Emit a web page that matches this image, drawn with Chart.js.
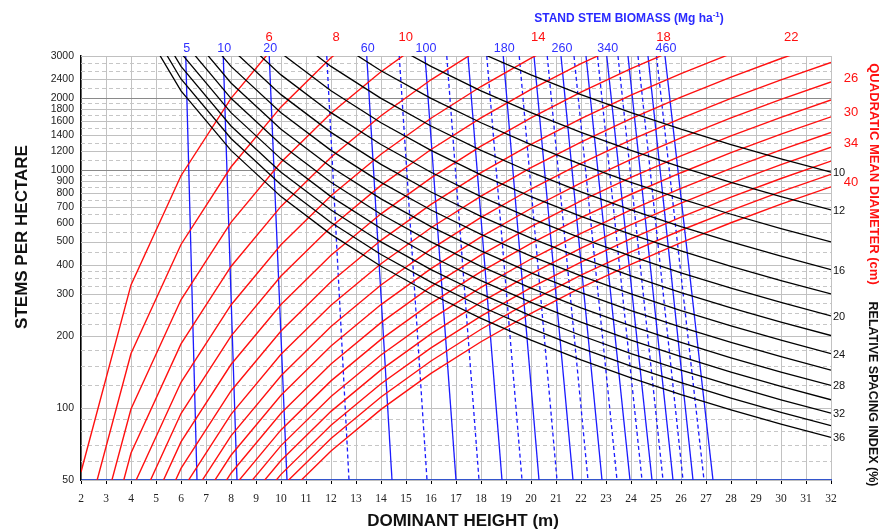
<!DOCTYPE html>
<html><head><meta charset="utf-8">
<script src="https://cdn.jsdelivr.net/npm/chart.js@4.4.1/dist/chart.umd.min.js"></script>
<style>html,body{margin:0;padding:0;background:#fff}#wrap{width:881px;height:529px;position:relative}</style>
</head><body><div id="wrap"><canvas id="c"></canvas></div>
<script>
// Dominant height (m) at which each isoline value is given
const heights = [2,4,6,8,10,12,14,16,18,20,22,24,26,28,30,32];

// Quadratic mean diameter isolines (cm): stems per hectare at each height
const dqValues = [6,8,10,12,14,16,18,20,22,24,26,28,30,32,34,36,38,40];
const dq6  = [54,329,944,1994,3563];
const dq8  = [27.9,169.5,486,1027,1835,2949,4401];
const dq10 = [16.4,99.3,285,602,1075,1727,2578,3648];
const dq12 = [10.7,64.9,186,393,702,1128,1684,2384,3237];
const dq14 = [null,44.8,128.4,271,485,778,1162,1645,2234,2938,3764];
const dq16 = [null,33.1,95.0,200.6,358.4,576,860,1216,1652,2174,2784,3490];
const dq18 = [null,25.2,72.2,152.5,272.4,437.8,653.5,924.7,1256,1652,2117,2653,3268];
const dq20 = [null,19.5,55.9,118.1,210.9,338.9,506,716,972.5,1279,1639,2055,2530,3068];
const dq22 = [null,null,44.6,94.2,168.3,270.4,403.6,571.3,775.9,1020,1307,1639,2018,2447,2928,3463];
const dq24 = [null,null,36.3,76.6,136.9,220,328.5,464.8,631.2,830.4,1064,1334,1642,1991,2382,2818];
const dq26 = [null,null,30.1,63.5,113.4,182.3,272.1,385,523,688,881,1105,1360,1650,1974,2335];
const dq28 = [null,null,25.3,53.4,95.3,153.2,228.6,323.6,439.5,578,740.6,928.4,1143,1386,1659,1962];
const dq30 = [null,null,null,45.4,81.1,130.2,194.4,275.1,373.7,491.4,629.7,789.5,971.8,1179,1410,1668];
const dq32 = [null,null,null,39.0,69.7,111.9,167.1,236.4,321.1,422.4,541.0,678.4,835.3,1013,1211,1433];
const dq34 = [null,null,null,33.8,60.4,97.0,144.8,205,278.4,366.2,469.2,588.2,724.3,878.3,1051,1243];
const dq36 = [null,null,null,29.6,52.8,84.8,126.6,179.2,243.4,320.2,410.2,514.3,633.2,767.9,918.9,1087];
const dq38 = [null,null,null,null,46.5,74.7,111.5,157.8,214.4,281.9,361.2,452.9,557.6,676.2,809.1,957];
const dq40 = [null,null,null,null,41.2,66.2,98.9,139.9,190.0,250.0,320.3,401.5,494.5,599.6,717.5,848.4];
const dqSeries = [dq6,dq8,dq10,dq12,dq14,dq16,dq18,dq20,dq22,dq24,dq26,dq28,dq30,dq32,dq34,dq36,dq38,dq40];
const dqTopLabels = [6,8,10,14,18,22];
const dqRightLabels = [26,30,34,40];

// Relative spacing index isolines (%)
const rsiValues = [10,12,14,16,18,20,22,24,26,28,30,32,34,36];
const rsi10 = [null,null,null,null,null,null,null,null,3086,2500,2066,1736,1479,1276,1111,976.6];
const rsi12 = [null,null,null,null,null,null,3543,2713,2143,1736,1435,1206,1027,885.8,771.6,678.2];
const rsi14 = [null,null,null,null,null,3543,2603,1993,1575,1276,1054,885.8,754.7,650.8,566.9,498.2];
const rsi16 = [null,null,null,null,3906,2713,1993,1526,1206,976.6,807.1,678.2,577.8,498.2,434.0,381.5];
const rsi18 = [null,null,null,null,3086,2143,1575,1206,952.6,771.6,637.7,535.8,456.6,393.7,342.9,301.4];
const rsi20 = [null,null,null,3906,2500,1736,1276,976.6,771.6,625,516.5,434.0,369.8,318.9,277.8,244.1];
const rsi22 = [null,null,null,3228,2066,1435,1054,807.1,637.7,516.5,426.9,358.7,305.6,263.5,229.6,201.8];
const rsi24 = [null,null,4823,2713,1736,1206,885.8,678.2,535.8,434.0,358.7,301.4,256.8,221.4,192.9,169.5];
const rsi26 = [null,null,4109,2311,1479,1027,754.7,577.8,456.6,369.8,305.6,256.8,218.8,188.7,164.4,144.5];
const rsi28 = [null,null,3543,1993,1276,885.8,650.8,498.2,393.7,318.9,263.5,221.4,188.7,162.7,141.7,124.6];
const rsi30 = [null,null,3086,1736,1111,771.6,566.9,434.0,342.9,277.8,229.6,192.9,164.4,141.7,123.5,108.5];
const rsi32 = [null,6104,2713,1526,976.6,678.2,498.2,381.5,301.4,244.1,201.8,169.5,144.5,124.6,108.5,95.4];
const rsi34 = [null,5407,2403,1352,865.1,600.7,441.4,337.9,267.0,216.3,178.7,150.2,128.0,110.3,96.1,84.5];
const rsi36 = [null,4823,2143,1206,771.6,535.8,393.7,301.4,238.1,192.9,159.4,134.0,114.1,98.4,85.7,75.4];
const rsiSeries = [rsi10,rsi12,rsi14,rsi16,rsi18,rsi20,rsi22,rsi24,rsi26,rsi28,rsi30,rsi32,rsi34,rsi36];
const rsiLabels = [10,12,16,20,24,28,32,36];

// Stand stem biomass isolines (Mg/ha): height where each line meets 3000 and 50 stems/ha
const biomassValues  = [5,10,20,40,60,80,100,120,140,160,180,200,220,240,260,280,300,320,340,360,380,400,420,440,460];
const biomassTopH    = [6.19,7.69,9.53,11.83,13.43,14.73,15.76,16.63,17.48,18.23,18.89,19.53,20.12,20.65,21.2,21.72,22.2,22.66,23.03,23.48,23.88,24.28,24.68,25.02,25.36];
const biomassBottomH = [6.64,8.24,10.24,12.72,14.44,15.84,17.0,17.92,18.84,19.64,20.32,21.04,21.68,22.28,22.84,23.44,23.96,24.44,24.84,25.28,25.68,26.08,26.48,26.92,27.28];
const biomassDashed  = [40,80,120,160,200,240,280,320,360,400,440];
const biomassLabels  = [5,10,20,60,100,180,260,340,460];
const nTop = 3000, nBottom = 50;

// Axis ticks
const yLabelValues = [50,100,200,300,400,500,600,700,800,900,1000,1200,1400,1600,1800,2000,2400,3000];
const yMinorValues = [60,70,80,90,125,150,175,225,250,275,325,350,375,450,550,650,750,850,950,1100,1300,1500,1700,1900,2200,2600,2800];

const RED = '#ff1010', BLUE = '#1a1aff', BLACK = '#000000';
const toPts = arr => heights.map((h,i) => ({x:h, y:arr[i]})).filter(p => p.y != null);

const datasets = [];
rsiSeries.forEach((arr,i) => datasets.push({kind:'rsi', val:rsiValues[i], data:toPts(arr), borderColor:BLACK, borderWidth:1.3}));
dqSeries.forEach((arr,i) => datasets.push({kind:'dq', val:dqValues[i], data:toPts(arr), borderColor:RED, borderWidth:1.4}));
biomassValues.forEach((v,i) => datasets.push({kind:'bio', val:v,
  data:[{x:biomassTopH[i], y:nTop},{x:biomassBottomH[i], y:nBottom}],
  borderColor:BLUE, borderWidth:1.3, borderDash: biomassDashed.includes(v) ? [4,3] : []}));

const gridPlugin = {
  id:'ygrid',
  beforeDatasetsDraw(chart){
    const {ctx, chartArea:a, scales:{y}} = chart;
    ctx.save();
    ctx.lineWidth = 1;
    const draw = (v, color, dash) => {
      const py = Math.round(y.getPixelForValue(v)) + 0.5;
      ctx.strokeStyle = color; ctx.setLineDash(dash);
      ctx.beginPath(); ctx.moveTo(a.left, py); ctx.lineTo(a.right, py); ctx.stroke();
    };
    yMinorValues.forEach(v => draw(v, '#c6c6c6', [4,3]));
    yLabelValues.forEach(v => draw(v, (v===1000||v===2000) ? '#8a8a8a' : '#c0c0c0', []));
    ctx.restore();
  }
};

function topCross(meta, top){
  const pts = meta.data;
  for (let i=1;i<pts.length;i++){
    const a = pts[i-1], b = pts[i];
    if ((a.y-top)*(b.y-top) <= 0 && a.y !== b.y) return a.x + (b.x-a.x)*(top-a.y)/(b.y-a.y);
  }
  return null;
}

const labelPlugin = {
  id:'labels',
  afterDraw(chart){
    const {ctx, chartArea:a} = chart;
    ctx.save();
    const SANS = '"Liberation Sans", Arial, sans-serif';
    chart.data.datasets.forEach((ds, i) => {
      const meta = chart.getDatasetMeta(i);
      const last = meta.data[meta.data.length-1];
      if (ds.kind === 'dq') {
        ctx.fillStyle = RED; ctx.font = '13px ' + SANS; ctx.textAlign = 'center'; ctx.textBaseline = 'middle';
        if (dqTopLabels.includes(ds.val)) {
          const x = topCross(meta, a.top);
          if (x != null) ctx.fillText(String(ds.val), x + 3, 37);
        }
        if (dqRightLabels.includes(ds.val)) ctx.fillText(String(ds.val), a.right + 20, last.y - 4);
      } else if (ds.kind === 'rsi' && rsiLabels.includes(ds.val)) {
        ctx.fillStyle = '#111'; ctx.font = '11px ' + SANS; ctx.textAlign = 'left'; ctx.textBaseline = 'middle';
        ctx.fillText(String(ds.val), a.right + 2, last.y + 1);
      } else if (ds.kind === 'bio' && biomassLabels.includes(ds.val)) {
        ctx.fillStyle = '#3030ff'; ctx.font = '12.5px ' + SANS; ctx.textAlign = 'center'; ctx.textBaseline = 'middle';
        ctx.fillText(String(ds.val), meta.data[0].x + 1, 49);
      }
    });
    // Top title with superscript
    ctx.fillStyle = '#2a2aff'; ctx.textBaseline = 'alphabetic'; ctx.textAlign = 'left';
    const t1 = 'STAND STEM BIOMASS (Mg ha', t2 = '-1', t3 = ')';
    ctx.font = 'bold 12px ' + SANS; const w1 = ctx.measureText(t1).width, w3 = ctx.measureText(t3).width;
    ctx.font = 'bold 8px ' + SANS; const w2 = ctx.measureText(t2).width;
    let sx = 629 - (w1 + w2 + w3)/2;
    ctx.font = 'bold 12px ' + SANS; ctx.fillText(t1, sx, 21.5);
    ctx.font = 'bold 8px ' + SANS; ctx.fillText(t2, sx + w1, 16.5);
    ctx.font = 'bold 12px ' + SANS; ctx.fillText(t3, sx + w1 + w2, 21.5);
    // X title
    ctx.fillStyle = '#111'; ctx.textAlign = 'center'; ctx.textBaseline = 'middle';
    ctx.font = 'bold 17px ' + SANS; ctx.fillText('DOMINANT HEIGHT (m)', 463, 521);
    // Y title
    ctx.save(); ctx.translate(22, 237); ctx.rotate(-Math.PI/2);
    ctx.fillText('STEMS PER HECTARE', 0, 0); ctx.restore();
    // Right titles
    ctx.save(); ctx.translate(874, 174); ctx.rotate(Math.PI/2);
    ctx.fillStyle = RED; ctx.font = 'bold 13px ' + SANS; ctx.fillText('QUADRATIC MEAN DIAMETER (cm)', 0, 0); ctx.restore();
    ctx.save(); ctx.translate(872, 394); ctx.rotate(Math.PI/2);
    ctx.fillStyle = '#111'; ctx.font = 'bold 12.5px ' + SANS; ctx.fillText('RELATIVE SPACING INDEX (%)', 0, 0); ctx.restore();
    ctx.restore();
  }
};

new Chart(document.getElementById('c'), {
  type:'line',
  data:{datasets},
  options:{
    responsive:true, maintainAspectRatio:false, animation:false,
    layout:{padding:{left:0, right:50, top:56, bottom:0}},
    plugins:{legend:{display:false}, tooltip:{enabled:false}},
    elements:{point:{radius:0}, line:{tension:0}},
    scales:{
      x:{type:'linear', min:2, max:32,
         afterFit:s => { s.height = 49; },
         ticks:{stepSize:1, autoSkip:false, maxRotation:0, padding:8, color:'#222',
                font:{family:'"Liberation Serif","Times New Roman",serif', size:11.5}},
         grid:{color:'#c2c2c2', lineWidth:1, tickLength:4, tickColor:'#000'},
         border:{color:'#3355cc', width:1.5}},
      y:{type:'logarithmic', min:50, max:3000,
         afterFit:s => { s.width = 81; },
         afterBuildTicks:s => { s.ticks = yLabelValues.map(v => ({value:v})); },
         ticks:{autoSkip:false, padding:7, color:'#222', callback:v => String(v),
                font:{family:'"Liberation Sans", Arial, sans-serif', size:10.5}},
         grid:{display:false, drawTicks:false},
         border:{color:'#000', width:1.5}}
    }
  },
  plugins:[gridPlugin, labelPlugin]
});
</script></body></html>
